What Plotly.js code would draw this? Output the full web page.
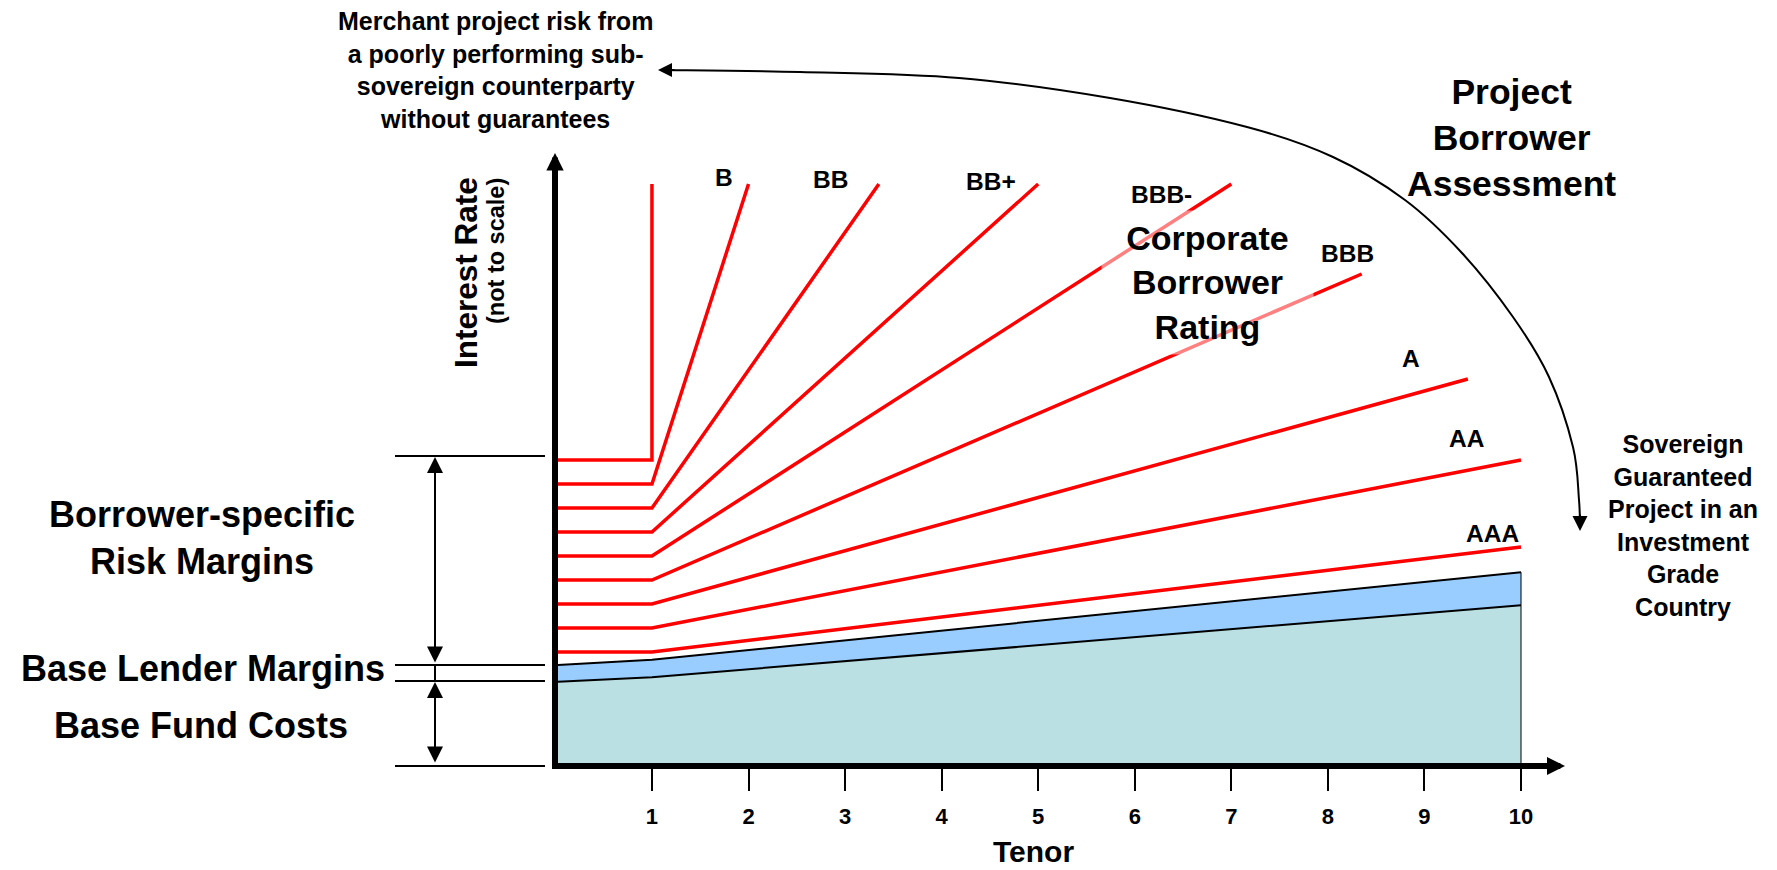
<!DOCTYPE html>
<html>
<head>
<meta charset="utf-8">
<script src="https://cdn.plot.ly/plotly-3.0.1.min.js"></script>
<style>
  html, body { margin: 0; padding: 0; background: #ffffff; overflow: hidden; }
  #chart { width: 1777px; height: 870px; }
</style>
</head>
<body>
<div id="chart"></div>
<script>
// ---------------- data (y is "not to scale") ----------------
const tenorTicks = [1, 2, 3, 4, 5, 6, 7, 8, 9, 10];
const baseTenor = [0, 1, 10];
const baseFundCost = [14, 14.8, 26.8];
const baseLenderTop = [16.8, 17.7, 32.3];

const ratingNames = ['Merchant', 'B', 'BB', 'BB+', 'BBB-', 'BBB', 'A', 'AA', 'AAA'];
const shortTenorRate = [51, 47, 43, 39, 35, 31, 27, 23, 19];   // flat part, tenor 0..1
const kneeTenor = 1;
const endTenor = [1, 2.0, 3.35, 5.0, 7.0, 8.35, 9.45, 10, 10];
const endRate = [97, 97, 97, 97, 97, 82, 64.5, 51, 36.5];

const ratingLabels = ['B', 'BB', 'BB+', 'BBB-', 'BBB', 'A', 'AA', 'AAA'];

// ---------------- layout geometry (pixels) ----------------
const FONT = 'Liberation Sans, Arial, Helvetica, sans-serif';
const L = 558, R = 1545, T = 175, B = 763;        // plot area
const X0PX = 555.4, XUNIT = 96.56;                // pixel of tenor 0, px per tenor year
const Y0PX = 766, YUNIT = 6;                      // pixel of rate 0, px per rate unit
const px = p => (p - L) / (R - L);
const py = p => (B - p) / (B - T);

const ratingLabelPos = [[724, 177], [830, 180], [991, 182], [1161, 194],
                        [1347, 253], [1411, 358], [1467, 438], [1492, 533]];

const curvePts = [[660, 70], [800, 72], [959, 78], [1110, 98], [1247, 127], [1333, 157],
                  [1405, 200], [1462, 253], [1513, 317], [1549, 377], [1573, 447],
                  [1579, 500], [1580, 528]];

// ---------------- traces ----------------
const traces = [];
traces.push({
  x: baseTenor, y: baseFundCost, type: 'scatter', mode: 'lines',
  fill: 'tozeroy', fillcolor: '#bbe0e3',
  line: { color: '#000000', width: 2 }, name: 'Base Fund Costs', showlegend: false
});
traces.push({
  x: baseTenor, y: baseLenderTop, type: 'scatter', mode: 'lines',
  fill: 'tonexty', fillcolor: '#99ccff',
  line: { color: '#000000', width: 2 }, name: 'Base Lender Margins', showlegend: false
});
const lastT = baseTenor[baseTenor.length - 1];
traces.push({
  x: [lastT, lastT], y: [0, baseLenderTop[baseLenderTop.length - 1]],
  type: 'scatter', mode: 'lines', line: { color: '#000000', width: 1 }, showlegend: false
});
ratingNames.forEach((nm, i) => {
  traces.push({
    x: [0, kneeTenor, endTenor[i]],
    y: [shortTenorRate[i], shortTenorRate[i], endRate[i]],
    type: 'scatter', mode: 'lines', name: nm, showlegend: false,
    line: { color: '#ff0000', width: 3.5 }
  });
});

// ---------------- annotations ----------------
function txt(text, x, y, size, extra) {
  return Object.assign({
    text: text, xref: 'paper', yref: 'paper', x: px(x), y: py(y),
    xanchor: 'center', yanchor: 'middle', showarrow: false, align: 'center',
    font: { family: FONT, size: size, color: '#000000', weight: 700 }
  }, extra || {});
}
function arrow(x, y, ax, ay, width, size, extra) {
  return Object.assign({
    text: '', xref: 'paper', yref: 'paper', x: px(x), y: py(y),
    axref: 'pixel', ayref: 'pixel', ax: ax, ay: ay,
    showarrow: true, arrowhead: 2, arrowsize: size, arrowwidth: width,
    arrowcolor: '#000000', standoff: 0
  }, extra || {});
}

const annotations = [];
annotations.push(txt('Merchant project risk from<br>a poorly performing sub-<br>sovereign counterparty<br>without guarantees', 495, 70, 25));
annotations.push(txt('Project<br>Borrower<br>Assessment', 1511, 138, 35.5));
annotations.push(txt('Corporate<br>Borrower<br>Rating', 1207, 282, 34,
  { bgcolor: 'rgba(255,255,255,0.5)', width: 211, height: 143, borderpad: 0, valign: 'middle' }));
annotations.push(txt('Sovereign<br>Guaranteed<br>Project in an<br>Investment<br>Grade<br>Country', 1683, 525, 25));
annotations.push(txt('Borrower-specific<br>Risk Margins', 202, 538, 36));
annotations.push(txt('Base Lender Margins', 203, 668, 36));
annotations.push(txt('Base Fund Costs', 201, 725, 36));
annotations.push(txt('Interest Rate', 466, 273, 31.5, { textangle: -90 }));
annotations.push(txt('(not to scale)', 496, 251, 23.5, { textangle: -90 }));
annotations.push(txt('Tenor', 1033, 851, 30));
ratingLabels.forEach((lab, i) => {
  annotations.push(txt(lab, ratingLabelPos[i][0], ratingLabelPos[i][1], 24.5));
});

// axis arrowheads
annotations.push(arrow(555, 153, 0, 35, 6, 0.58));
annotations.push(arrow(1565, 766, -35, 0, 6, 0.6));
// curved arrow heads
annotations.push(arrow(658, 70, 18, 0, 2, 1.4));
annotations.push(arrow(1580, 531, 0, -18, 2, 1.5));
// bracket double arrows
annotations.push(arrow(435, 457, 0, 207, 2, 1.6, { arrowside: 'end+start', startarrowhead: 2, startarrowsize: 1.6, startstandoff: 0 }));
annotations.push(arrow(435, 682, 0, 82, 2, 1.6, { arrowside: 'end+start', startarrowhead: 2, startarrowsize: 1.6, startstandoff: 0 }));

// ---------------- shapes ----------------
const shapes = [];
[456, 665, 681, 766].forEach(yy => {
  shapes.push({ type: 'line', xref: 'paper', yref: 'paper', x0: px(395), x1: px(545), y0: py(yy), y1: py(yy),
                line: { color: '#000000', width: 2 } });
});
shapes.push({ type: 'line', xref: 'paper', yref: 'paper', x0: px(435), x1: px(435), y0: py(664), y1: py(682),
              line: { color: '#000000', width: 2 } });

// smooth curved arrow (Catmull-Rom -> cubic Bezier) in paper coordinates
function curvePath(pts) {
  const f = p => px(p[0]).toFixed(5) + ',' + py(p[1]).toFixed(5);
  let d = 'M' + f(pts[0]);
  for (let i = 0; i < pts.length - 1; i++) {
    const p0 = pts[i - 1] || pts[i], p1 = pts[i], p2 = pts[i + 1], p3 = pts[i + 2] || pts[i + 1];
    const c1 = [p1[0] + (p2[0] - p0[0]) / 6, p1[1] + (p2[1] - p0[1]) / 6];
    const c2 = [p2[0] - (p3[0] - p1[0]) / 6, p2[1] - (p3[1] - p1[1]) / 6];
    d += ' C' + f(c1) + ' ' + f(c2) + ' ' + f(p2);
  }
  return d;
}
shapes.push({ type: 'path', xref: 'paper', yref: 'paper', path: curvePath(curvePts),
              line: { color: '#000000', width: 2 }, fillcolor: 'rgba(0,0,0,0)' });

// ---------------- layout ----------------
const layout = {
  width: 1777, height: 870,
  margin: { l: L, r: 1777 - R, t: T, b: 870 - B, pad: 0 },
  paper_bgcolor: '#ffffff', plot_bgcolor: '#ffffff',
  showlegend: false, hovermode: false,
  xaxis: {
    range: [(L - X0PX) / XUNIT, (R - X0PX) / XUNIT],
    tickmode: 'array', tickvals: tenorTicks, ticktext: tenorTicks.map(String),
    ticks: 'outside', ticklen: 22, tickwidth: 2, tickcolor: '#000000',
    ticklabelstandoff: 7,
    showline: true, linewidth: 6, linecolor: '#000000',
    showgrid: false, zeroline: false, fixedrange: true,
    tickfont: { family: FONT, size: 22, color: '#000000', weight: 700 }
  },
  yaxis: {
    range: [(Y0PX - B) / YUNIT, (Y0PX - T) / YUNIT],
    showline: true, linewidth: 6, linecolor: '#000000',
    showticklabels: false, ticks: '', showgrid: false, zeroline: false, fixedrange: true
  },
  annotations: annotations,
  shapes: shapes
};

Plotly.newPlot('chart', traces, layout, { staticPlot: true, displayModeBar: false });
</script>
</body>
</html>
